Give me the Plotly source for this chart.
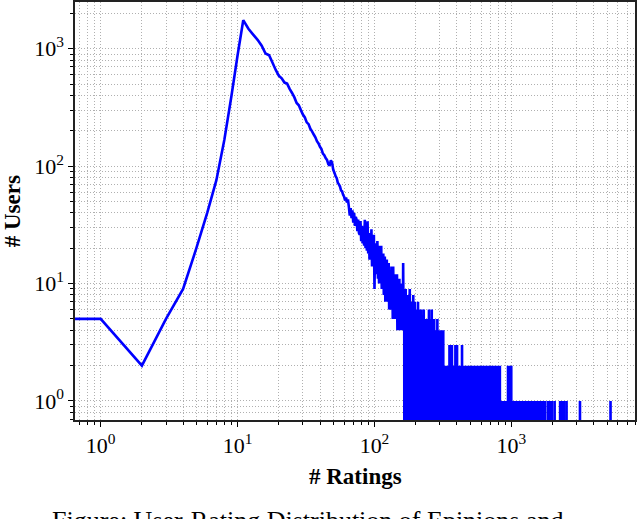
import numpy as np
import plotly.graph_objects as go

# ---- data: number of users per number of ratings ----
# ratings 0..11 (rising part)
users_0_11 = [5, 5, 2, 5, 9, 20, 40, 76, 167, 390, 880, 1750]
# ratings 12..64 (smooth decay)
users_12_64 = [1480, 1320, 1190, 1060, 910, 880, 760, 660, 590, 560,
               515, 505, 455, 420, 385, 345, 330, 300, 275, 260,
               236, 228, 208, 198, 186, 176, 163, 156, 146, 140,
               128, 124, 117, 113, 104, 101, 112, 107, 93, 88,
               82, 79, 72, 70, 67, 62, 61, 57, 55, 51,
               54, 49, 52]
# ratings 65..165 (noisy decay)
users_65_165 = [45, 38, 44, 36, 42, 33, 40, 31, 37, 35,
                28, 35, 27, 26, 34, 23, 31, 22, 30, 21,
                35, 20, 28, 19, 34, 18, 27, 16, 26, 17,
                29, 14, 23, 15, 26, 9, 22, 13, 21, 12,
                23, 11, 19, 10, 21, 10, 17, 21, 9, 17,
                9, 18, 8, 15, 17, 7, 14, 8, 16, 7,
                13, 7, 15, 6, 13, 6, 12, 6, 14, 6,
                11, 5, 14, 7, 5, 12, 6, 11, 5, 10,
                5, 12, 4, 9, 4, 10, 5, 11, 4, 8,
                4, 9, 5, 10, 4, 8, 4, 15, 5, 9,
                4]
# ratings 166..300
users_166_300 = [0, 6, 3, 9, 2, 5, 0, 7, 4, 3,
                 8, 1, 5, 0, 6, 9, 2, 4, 0, 7,
                 3, 5, 1, 6, 0, 4, 8, 2, 3, 0,
                 5, 7, 1, 4, 0, 3, 6, 2, 0, 5,
                 1, 4, 7, 0, 3, 2, 5, 0, 6, 1,
                 3, 0, 4, 6, 2, 0, 5, 1, 3, 0,
                 4, 2, 0, 6, 1, 3, 0, 5, 2, 0,
                 3, 1, 4, 0, 2, 5, 0, 3, 1, 0,
                 4, 2, 0, 3, 6, 0, 1, 4, 0, 2,
                 3, 0, 5, 1, 0, 2, 6, 0, 3, 1,
                 0, 4, 2, 0, 3, 1, 0, 5, 0, 2,
                 1, 3, 0, 2, 4, 0, 1, 0, 3, 2,
                 0, 1, 5, 0, 2, 0, 3, 1, 0, 4,
                 0, 2, 1, 0, 3]
# ratings 301..500
users_301_500 = [0, 2, 1, 0, 4, 0, 1, 0, 2, 0, 2, 1, 0, 0, 2, 0, 1, 4, 0, 1,
                 0, 2, 0, 1, 0, 2, 0, 0, 1, 2, 0, 1, 0, 0, 2, 0, 1, 0, 2, 0,
                 1, 0, 2, 0, 0, 1, 0, 2, 0, 1, 0, 0, 3, 0, 1, 0, 0, 3, 0, 1,
                 0, 2, 0, 0, 1, 0, 1, 3, 0, 0, 2, 0, 0, 1, 0, 2, 0, 0, 1, 0,
                 0, 1, 0, 2, 0, 0, 1, 0, 0, 3, 0, 1, 0, 0, 2, 0, 0, 1, 0, 0,
                 3, 0, 0, 1, 0, 2, 0, 0, 1, 0, 0, 2, 0, 1, 0, 0, 0, 2, 0, 0,
                 1, 0, 0, 2, 0, 0, 1, 0, 0, 0, 2, 0, 1, 0, 0, 3, 0, 0, 1, 0,
                 0, 2, 0, 0, 1, 0, 0, 0, 2, 0, 0, 1, 0, 0, 0, 2, 0, 1, 0, 0,
                 0, 1, 0, 0, 2, 0, 0, 0, 1, 0, 0, 0, 2, 0, 0, 1, 0, 0, 0, 1,
                 0, 0, 2, 0, 0, 0, 1, 0, 0, 0, 2, 0, 0, 1, 0, 0, 0, 0, 2, 0]
# sparse tail (> 500 ratings): rating values with one user / two users
tail_one_user = [503, 508, 512, 517, 521, 526, 531, 535, 540, 546, 551, 555,
                 561, 566, 570, 577, 582, 588, 593, 599, 604, 611, 617, 622,
                 629, 635, 641, 648, 653, 660, 667, 673, 680, 688, 694, 701,
                 709, 716, 723, 731, 738, 746, 754, 762, 770, 779, 787, 796,
                 805, 813, 822, 832, 841, 851, 861, 872, 883, 893, 905, 916,
                 928, 940, 952, 965, 978, 991,
                 1008, 1021, 1037, 1050, 1066, 1083, 1097, 1115, 1132, 1150,
                 1168, 1187, 1205, 1226, 1245, 1266, 1288, 1310, 1333, 1356,
                 1380, 1405, 1430, 1456, 1483, 1511, 1540, 1569, 1600, 1631,
                 1663, 1695, 1760, 1850, 1900, 1975, 2070, 2270, 2330, 2420,
                 2530, 3170, 5300]
tail_two_users = [515, 538, 557, 574, 590, 613, 632, 655, 677, 698, 720, 742,
                  765, 790, 824, 945, 972, 998]

x_ticks = [1, 10, 100, 1000]
x_tick_text = ["10<sup>0</sup>", "10<sup>1</sup>", "10<sup>2</sup>", "10<sup>3</sup>"]
y_ticks = [1, 10, 100, 1000]
y_tick_text = ["10<sup>0</sup>", "10<sup>1</sup>", "10<sup>2</sup>", "10<sup>3</sup>"]

# ---- build the full histogram (every integer rating, zeros included) ----
dense = users_0_11 + users_12_64 + users_65_165 + users_166_300 + users_301_500
max_rating = max(tail_one_user + tail_two_users)
counts = np.zeros(max_rating + 1)
counts[:len(dense)] = dense
counts[tail_one_user] = 1
counts[tail_two_users] = 2
ratings = np.arange(max_rating + 1, dtype=float)

# like matplotlib's log "clip": non-positive values are pushed far off-axis
CLIP = 1e-4
x_plot = np.where(ratings > 0, ratings, CLIP)
y_plot = np.where(counts > 0, counts, CLIP)

minor_x = [m * 10 ** e for e in range(-1, 4) for m in range(2, 10)]
minor_y = [m * 10 ** e for e in range(-1, 4) for m in range(2, 10)]

fig = go.Figure()
fig.add_trace(go.Scatter(x=x_plot, y=y_plot, mode="lines",
                         line=dict(color="#0000ff", width=2.6, simplify=False),
                         hoverinfo="skip", showlegend=False))

grid_col = "#b0b0b0"
grid_dash = "1px,2px"
axis_common = dict(type="log", showline=True, mirror=True, linecolor="#222222",
                   linewidth=1.5, ticks="outside", ticklen=5, tickwidth=1,
                   tickcolor="black", showgrid=True, gridcolor=grid_col,
                   griddash=grid_dash, gridwidth=1, zeroline=False,
                   automargin=False,
                   tickfont=dict(family="Liberation Serif", size=22, color="black"))
minor_common = dict(tickmode="array", ticks="outside", ticklen=3, tickwidth=1,
                    tickcolor="black", showgrid=True, gridcolor=grid_col,
                    griddash=grid_dash, gridwidth=1)

fig.update_xaxes(**axis_common, range=[-0.1876, 3.903],
                 tickmode="array", tickvals=x_ticks, ticktext=x_tick_text,
                 minor=dict(**minor_common, tickvals=minor_x))
fig.update_yaxes(**axis_common, range=[-0.162, 3.398],
                 tickmode="array", tickvals=y_ticks, ticktext=y_tick_text,
                 minor=dict(**minor_common, tickvals=minor_y))

title_font = dict(family="Liberation Serif", size=23, color="black")
fig.add_annotation(text="<b># Ratings</b>", xref="paper", yref="paper",
                   x=0.5, y=-0.134, xanchor="center", yanchor="middle",
                   showarrow=False, font=title_font)
fig.add_annotation(text="<b># Users</b>", xref="paper", yref="paper",
                   x=-0.112, y=0.5, xanchor="center", yanchor="middle",
                   textangle=-90, showarrow=False, font=title_font)

fig.add_annotation(text="Figure: User-Rating Distribution of Epinions and",
                   xref="paper", yref="paper", x=-0.045, y=-0.202,
                   xanchor="left", yanchor="top", showarrow=False,
                   font=dict(family="Liberation Serif", size=26, color="black"))

fig.update_layout(width=640, height=519, plot_bgcolor="white",
                  paper_bgcolor="white",
                  margin=dict(l=75, r=5, t=2, b=99))

# remove the browser's default 8px page margin so the figure sits at (0, 0)
fig.write_html("out.html",
               config={"displayModeBar": False},
               post_script="document.body.style.margin='0';"
                           "document.body.style.overflow='hidden';")
